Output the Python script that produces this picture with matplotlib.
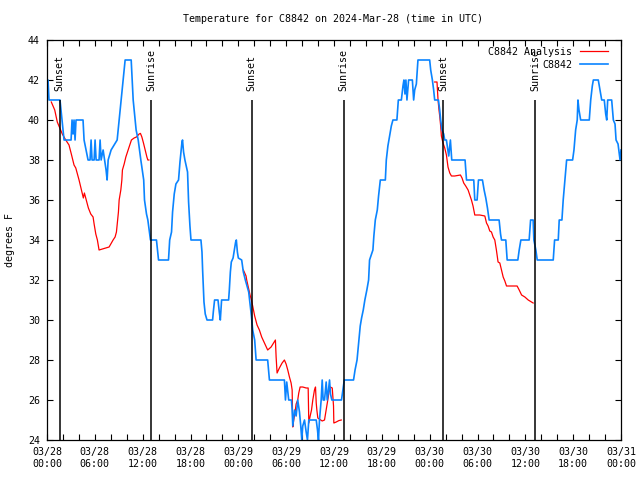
import matplotlib
matplotlib.use("Agg")
import matplotlib.pyplot as plt
import matplotlib.dates as mdates
import numpy as np
import pandas as pd

START = pd.Timestamp("2024-03-28 00:00")

# station observations (hours after 03/28 00:00 UTC, degrees F)
obs_hours = [
    0.00, 0.13, 0.25, 1.63, 1.76, 1.88, 2.01, 2.14, 3.02, 3.14, 3.27, 3.39, 3.52, 3.64,
    4.52, 4.65, 4.90, 5.15, 5.40, 5.53, 5.65, 5.91, 6.03, 6.16, 6.53, 6.66, 6.79, 7.04,
    7.41, 7.54, 7.67, 8.04, 8.80, 9.05, 9.30, 9.55, 9.80, 10.56, 10.68, 10.81, 11.06,
    11.18, 11.44, 11.77, 12.13, 12.23, 12.48, 12.65, 12.82, 12.98, 13.73, 13.99, 15.24,
    15.39, 15.62, 15.75, 15.96, 16.17, 16.50, 16.68, 16.80, 16.93, 17.00, 17.13, 17.30,
    17.63, 17.76, 17.93, 18.06, 19.31, 19.44, 19.52, 19.69, 19.85, 20.07, 20.77, 20.86,
    21.02, 21.45, 21.61, 21.74, 21.90, 22.78, 22.87, 23.00, 23.12, 23.34, 23.50, 23.66,
    23.75, 23.88, 24.00, 24.42, 24.63, 24.88, 25.09, 25.30, 25.47, 25.64, 25.80, 26.05,
    26.23, 27.68, 27.90, 29.78, 29.91, 30.07, 30.32, 30.66, 30.75, 30.83, 31.04, 31.25,
    31.45, 31.67, 31.83, 31.96, 32.08, 32.30, 32.51, 32.67, 32.84, 33.77, 33.93, 34.05,
    34.18, 34.39, 34.52, 34.64, 34.81, 35.02, 35.15, 35.31, 35.44, 35.56, 35.73, 36.94,
    37.11, 37.29, 38.45, 38.64, 38.89, 39.12, 39.29, 39.46, 39.67, 39.87, 40.12, 40.34,
    40.46, 40.88, 41.00, 41.18, 41.43, 41.59, 41.81, 42.44, 42.56, 42.76, 42.98, 43.19,
    43.39, 43.89, 44.07, 44.45, 44.65, 44.77, 44.90, 45.02, 45.15, 45.36, 45.83, 45.99,
    46.12, 46.33, 46.53, 48.00, 48.13, 48.34, 48.50, 48.63, 49.10, 49.26, 49.38, 49.55,
    49.76, 49.89, 50.10, 50.39, 50.60, 50.77, 52.44, 52.62, 53.53, 53.66, 53.95, 54.12,
    54.62, 54.83, 55.04, 55.25, 55.46, 56.71, 56.89, 57.01, 57.55, 57.72, 59.06, 59.23,
    59.44, 60.48, 60.66, 60.98, 61.07, 61.32, 61.49, 63.50, 63.67, 64.13, 64.25, 64.59,
    64.75, 64.97, 65.18, 65.93, 66.10, 66.31, 66.51, 66.60, 66.73, 66.94, 68.02, 68.20,
    68.40, 68.53, 69.15, 69.36, 69.58, 69.90, 70.08, 70.21, 70.33, 70.83, 71.04, 71.25,
    71.38, 71.63, 71.88, 72.00,
]
obs_temp = [
    42, 42, 41, 41, 40.5, 40, 39.5, 39, 39, 40, 39.3, 40, 39, 40,
    40, 39, 38.5, 38, 38, 39, 38, 38, 39, 38, 38, 39, 38, 38.5,
    37.5, 37, 38, 38.5, 39, 40, 41, 42, 43, 43, 42, 41, 40,
    39.5, 39, 38, 37, 36, 35.3, 35, 34.5, 34, 34, 33, 33,
    34, 34.4, 35.4, 36.3, 36.8, 37, 37.9, 38.4, 38.9, 39, 38.4, 38,
    37.4, 35.9, 34.7, 34, 34, 33.4, 32.5, 30.9, 30.3, 30, 30, 30.4,
    31, 31, 30.4, 30, 31, 31, 31.5, 32.4, 32.9, 33.1, 33.5, 33.9,
    34, 33.4, 33.1, 33, 32.4, 32, 31.7, 31.4, 30.8, 30.2, 29.5, 29,
    28, 28, 27, 27, 26, 26.9, 26, 26, 25.5, 24.7, 25.5, 25.2,
    26, 25.4, 24.7, 24, 24.7, 25, 24.4, 24, 25, 25, 24.5, 24,
    25, 26, 27, 26, 26, 26.9, 26, 26.5, 27, 26.3, 26, 26,
    26.5, 27, 27, 27.5, 28, 29, 29.7, 30.1, 30.5, 31, 31.5, 32,
    33, 33.5, 34.2, 35, 35.5, 36.2, 37, 37, 38, 38.7, 39.2, 39.7,
    40, 40, 41, 41, 41.7, 42, 41.3, 42, 41, 42, 42, 41,
    41.5, 41.8, 43, 43, 42.5, 42, 41.5, 41, 41, 40.5, 40, 39.5,
    39.3, 39, 39, 38.2, 39, 38, 38, 37, 37, 36, 36, 37,
    37, 36.5, 36.1, 35.6, 35, 35, 34.3, 34, 34, 33, 33, 33.5,
    34, 34, 35, 35, 34, 33.5, 33, 33, 34, 34, 35, 35,
    36, 37, 38, 38, 38.5, 39.5, 40, 41, 40.5, 40, 40, 41,
    41.7, 42, 42, 41.5, 41, 41, 40.3, 40, 41, 41, 40, 39.8,
    39, 38.8, 38, 38.5,
]

# analysis (three separate runs, NaN breaks the line)
ana_hours = [
    0.54, 0.97, 1.29, 1.60, 1.92, 2.35, 2.76, 3.05, 3.39, 3.61, 4.02, 4.44, 4.56, 4.69,
    4.86, 5.06, 5.19, 5.49, 5.78, 5.91, 6.12, 6.32, 6.53, 6.95, 7.38, 7.79, 8.00, 8.29,
    8.54, 8.71, 8.83, 8.96, 9.05, 9.26, 9.39, 9.46, 9.68, 9.89, 10.09, 10.30, 10.59,
    10.93, 11.22, 11.56, 11.72, 11.90, 12.10, 12.31, 12.53, 12.65, 12.78,
    18.0,
    24.63, 24.97, 25.05, 25.22, 25.47, 25.64, 25.80, 26.05, 26.35, 26.64, 26.93, 27.27,
    27.68, 28.11, 28.65, 28.74, 28.86, 29.15, 29.49, 29.78, 29.99, 30.20, 30.41, 30.62,
    30.75, 30.83, 30.95, 31.08, 31.25, 31.45, 31.58, 31.75, 32.08, 32.51, 32.76, 32.84,
    33.01, 33.18, 33.34, 33.55, 33.68, 33.77, 33.85, 33.97, 34.52, 34.81, 35.02, 35.22,
    35.35, 35.52, 35.78, 35.94, 35.98, 36.28, 36.61, 36.91,
    42.0,
    48.63, 48.92, 49.05, 49.17, 49.26, 49.38, 49.47, 49.67, 49.89, 50.10, 50.30, 50.52,
    50.73, 51.14, 51.86, 52.06, 52.27, 52.52, 52.82, 53.03, 53.24, 53.44, 53.66, 54.29,
    54.92, 55.13, 55.33, 55.54, 55.75, 55.96, 56.17, 56.37, 56.58, 56.80, 57.01, 57.22,
    57.43, 57.64, 58.97, 59.23, 59.53, 59.94, 60.36, 60.57, 60.98,
]
ana_temp = [
    40.9, 40.5, 39.9, 39.6, 39.3, 39.0, 38.75, 38.3, 37.75, 37.6, 37.0, 36.3, 36.1, 36.35,
    36.1, 35.8, 35.6, 35.3, 35.15, 34.8, 34.3, 34.0, 33.5, 33.55, 33.6, 33.65, 33.8, 34.0,
    34.15, 34.4, 34.9, 35.4, 36.0, 36.5, 37.0, 37.5, 37.8, 38.15, 38.4, 38.65, 39.0,
    39.1, 39.15, 39.3, 39.33, 39.15, 38.85, 38.5, 38.15, 38.0, 38.0,
    np.nan,
    32.5, 32.2, 32.0, 31.7, 31.25, 31.0, 30.7, 30.2, 29.75, 29.5, 29.15, 28.85,
    28.5, 28.65, 29.0, 28.15, 27.35, 27.6, 27.85, 28.0, 27.8, 27.5, 27.15, 26.85,
    26.5, 24.65, 25.0, 25.3, 25.8, 26.0, 26.35, 26.65, 26.65, 26.6, 26.6, 24.85,
    25.2, 25.5, 26.0, 26.5, 26.65, 25.85, 25.5, 25.1, 24.95, 25.0, 25.5, 26.0,
    26.35, 26.65, 26.6, 25.7, 24.85, 24.9, 24.97, 25.0,
    np.nan,
    41.9, 41.9, 41.0, 40.5, 40.2, 39.7, 39.2, 38.85, 38.6, 38.25, 37.65, 37.35,
    37.2, 37.2, 37.25, 37.1, 36.85, 36.7, 36.5, 36.25, 36.0, 35.7, 35.25, 35.25,
    35.2, 34.85, 34.7, 34.45, 34.4, 34.15, 34.0, 33.5, 32.9, 32.85, 32.5, 32.15,
    31.95, 31.7, 31.7, 31.5, 31.25, 31.15, 31.0, 30.95, 30.85,
]

sun_hours = [1.60, 13.09, 25.66, 37.23, 49.66, 61.22]
sun_labels = ["Sunset", "Sunrise", "Sunset", "Sunrise", "Sunset", "Sunrise"]


def to_time(hours):
    return START + pd.to_timedelta(np.asarray(hours, dtype=float), unit="h")


FONT = "DejaVu Sans Mono"
FS = 7.2

fig = plt.figure(figsize=(6.4, 4.8), dpi=100)
ax = fig.add_axes([47 / 640, 40 / 480, 574 / 640, 400 / 480])

ax.plot(to_time(ana_hours), ana_temp, color="#ff0000", lw=0.9, label="C8842 Analysis")
ax.plot(to_time(obs_hours), obs_temp, color="#0a84ff", lw=1.2, label="C8842")

ax.vlines(to_time(sun_hours), 24, 41, color="black", lw=1.1, zorder=3)
for t, lab in zip(to_time(sun_hours), sun_labels):
    ax.text(t, 41.45, lab, rotation=90, ha="center", va="bottom",
            family=FONT, fontsize=FS)

ax.set_xlim(START, START + pd.Timedelta(hours=72))
ax.set_ylim(24, 44)
ax.set_yticks(np.arange(24, 45, 2))

ax.xaxis.set_major_locator(mdates.HourLocator(byhour=[0, 6, 12, 18]))
ax.xaxis.set_minor_locator(mdates.HourLocator(interval=2))
ax.xaxis.set_major_formatter(mdates.DateFormatter("%m/%d\n%H:%M"))

ax.tick_params(which="both", direction="in", top=True, right=True,
               length=4, width=0.8, labelsize=FS, pad=5)
for lab in ax.get_xticklabels() + ax.get_yticklabels():
    lab.set_family(FONT)
for s in ax.spines.values():
    s.set_linewidth(0.9)

leg = ax.legend(loc="upper right", frameon=False, markerfirst=False,
                prop={"family": FONT, "size": FS}, handlelength=2.8,
                handletextpad=0.8, labelspacing=0.3,
                bbox_to_anchor=(0.99, 1.0), borderaxespad=0.3)

fig.text(333 / 640, 1 - 19 / 480, "Temperature for C8842 on 2024-Mar-28 (time in UTC)",
         ha="center", va="center", family=FONT, fontsize=FS)
fig.text(10 / 640, 0.5, "degrees F", rotation=90, ha="center", va="center",
         family=FONT, fontsize=FS)

fig.savefig("out.png", dpi=100)
